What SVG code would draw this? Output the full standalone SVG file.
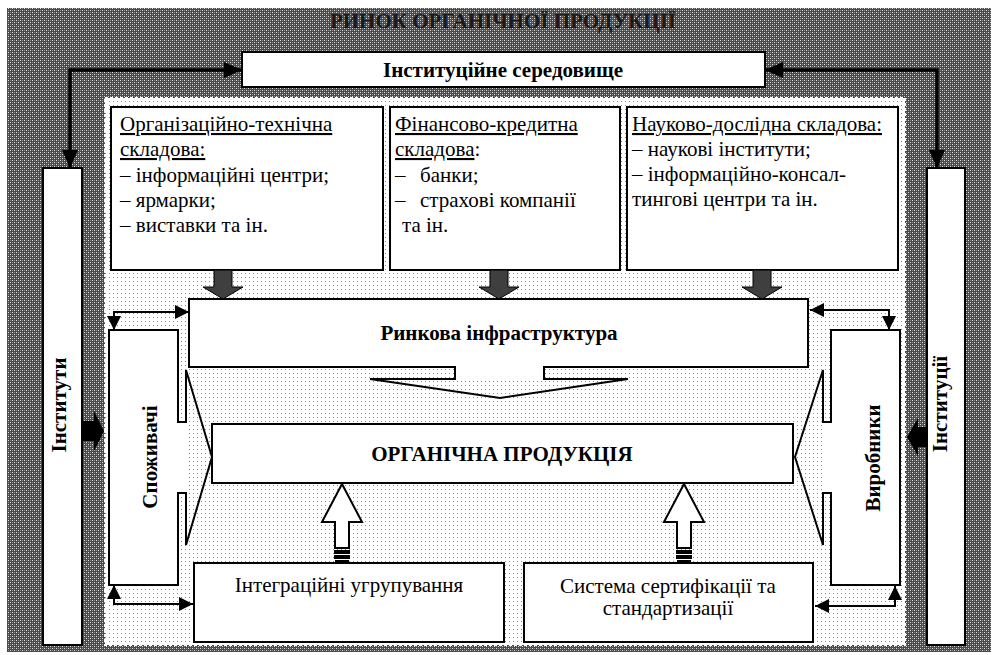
<svg xmlns="http://www.w3.org/2000/svg" width="997" height="655" viewBox="0 0 997 655">
<defs>
<pattern id="dark" width="4" height="4" patternUnits="userSpaceOnUse">
<rect width="4" height="4" fill="#4a4a4a"/>
<rect x="0" y="0" width="1" height="1" fill="#e0e0e0"/>
<rect x="2" y="2" width="1" height="1" fill="#e0e0e0"/>
<rect x="2" y="0" width="1" height="1" fill="#8a8a8a"/>
<rect x="0" y="2" width="1" height="1" fill="#8a8a8a"/>
</pattern>
<pattern id="dots" width="4" height="4" patternUnits="userSpaceOnUse">
<rect width="4" height="4" fill="#ffffff"/>
<rect x="1" y="1" width="1" height="1" fill="#8c8c8c"/>
</pattern>
<marker id="ah" viewBox="0 0 14 14" markerWidth="14" markerHeight="14" refX="14" refY="7" orient="auto-start-reverse" markerUnits="userSpaceOnUse">
<path d="M0,0 L14,7 L0,14 Z" fill="#000"/>
</marker>
<marker id="ahb" viewBox="0 0 18 16" markerWidth="18" markerHeight="16" refX="18" refY="8" orient="auto-start-reverse" markerUnits="userSpaceOnUse">
<path d="M0,0 L18,8 L0,16 Z" fill="#000"/>
</marker>
<style>
.t{font-family:"Liberation Serif","Times New Roman",serif;font-size:21px;fill:#000}
.b{font-weight:bold}
.m{text-anchor:middle}
.box{fill:#fff;stroke:#000;stroke-width:2}
.ol{fill:none;stroke:#000;stroke-width:2;stroke-linejoin:miter}
.wf{fill:#fff;stroke:none}
.thin{fill:none;stroke:#000;stroke-width:2}
.thick{fill:none;stroke:#000;stroke-width:3.5}
.dn{fill:#3f3f3f;stroke:#000;stroke-width:1}
.up{fill:#fff;stroke:#000;stroke-width:2}
.blk{fill:#000;stroke:none}
</style>
</defs>

<g id="background">
<rect x="7" y="8" width="984" height="644" fill="url(#dark)"/>
<rect x="105" y="98" width="800" height="547" fill="url(#dots)" stroke="#fff" stroke-width="2" stroke-dasharray="3 2"/>
</g>

<g id="title">
<text class="t b m" x="503" y="28" font-size="20" style="fill:#1a1a1a">РИНОК ОРГАНІЧНОЇ ПРОДУКЦІЇ</text>
</g>

<g id="inst-env">
<rect class="box" x="242" y="52" width="523" height="35"/>
<text class="t b m" x="503" y="77">Інституційне середовище</text>
</g>

<g id="institutes">
<rect class="box" x="43" y="168" width="39" height="477"/>
<text class="t b m" transform="translate(66,405) rotate(-90)">Інститути</text>
</g>

<g id="institutions">
<rect class="box" x="927" y="168" width="38" height="477"/>
<text class="t b m" transform="translate(947,404) rotate(-90)">Інституції</text>
</g>

<g id="box-org">
<rect class="box" x="111" y="107" width="272" height="163"/>
<text class="t" x="120" y="131"><tspan text-decoration="underline">Організаційно-технічна</tspan></text>
<text class="t" x="120" y="156"><tspan text-decoration="underline">складова:</tspan></text>
<text class="t" x="120" y="182">– інформаційні центри;</text>
<text class="t" x="120" y="207">– ярмарки;</text>
<text class="t" x="120" y="232">– виставки та ін.</text>
</g>

<g id="box-fin">
<rect class="box" x="390" y="107" width="230" height="163"/>
<text class="t" x="395" y="131"><tspan text-decoration="underline">Фінансово-кредитна</tspan></text>
<text class="t" x="395" y="156"><tspan text-decoration="underline">складова</tspan>:</text>
<text class="t" x="395" y="182">–<tspan x="420">банки;</tspan></text>
<text class="t" x="395" y="207">–<tspan x="420">страхові компанії</tspan></text>
<text class="t" x="402" y="232">та ін.</text>
</g>

<g id="box-sci">
<rect class="box" x="627" y="107" width="271" height="163"/>
<text class="t" x="632" y="131"><tspan text-decoration="underline">Науково-дослідна складова:</tspan></text>
<text class="t" x="632" y="156">– наукові інститути;</text>
<text class="t" x="632" y="181">– інформаційно-консал-</text>
<text class="t" x="632" y="206">тингові центри та ін.</text>
</g>

<g id="infra">
<path class="wf" d="M189,299 H808 V367 H544 V379 H455 V367 H189 Z"/>
<path class="ol" d="M189,299 H808 V367 H544 V379 H628 L500,398 L370,379 H455 V367 H189 Z"/>
<text class="t b m" x="499" y="340">Ринкова інфраструктура</text>
</g>

<g id="organic">
<rect class="box" x="212" y="424" width="581" height="59"/>
<text class="t b m" x="502" y="461">ОРГАНІЧНА ПРОДУКЦІЯ</text>
</g>

<g id="consumers">
<path class="wf" d="M109,330 H178 V422 H186 V493 H178 V585 H109 Z"/>
<path class="ol" d="M109,330 H178 V422 H186 V370 L212,457 L186,545 V493 H178 V585 H109 Z"/>
<text class="t b m" transform="translate(157,457) rotate(-90)">Споживачі</text>
</g>

<g id="producers">
<path class="wf" d="M900,330 H831 V422 H823 V493 H831 V585 H900 Z"/>
<path class="ol" d="M900,330 H831 V422 H823 V370 L795,457 L823,545 V493 H831 V585 H900 Z"/>
<text class="t b m" transform="translate(880,458) rotate(-90)">Виробники</text>
</g>

<g id="integration">
<rect class="box" x="194" y="563" width="310" height="79"/>
<text class="t m" x="349" y="592">Інтеграційні угрупування</text>
</g>

<g id="certification">
<rect class="box" x="524" y="563" width="289" height="79"/>
<text class="t m" x="668" y="593">Система сертифікації та</text>
<text class="t m" x="668" y="615">стандартизації</text>
</g>

<g id="connectors">
<path class="thick" d="M70,168 V70 H242" marker-start="url(#ahb)" marker-end="url(#ahb)"/>
<path class="thick" d="M765,70 H937 V168" marker-start="url(#ahb)" marker-end="url(#ahb)"/>
<path class="thin" d="M189,312 H114 V330" marker-start="url(#ah)" marker-end="url(#ah)"/>
<path class="thin" d="M114,585 V604 H193" marker-start="url(#ah)" marker-end="url(#ah)"/>
<path class="thin" d="M810,310 H889 V330" marker-start="url(#ah)" marker-end="url(#ah)"/>
<path class="thin" d="M895,586 V606 H815" marker-start="url(#ah)" marker-end="url(#ah)"/>
<path class="dn" d="M214,270 H232 V287 H243 L223,299 L203,287 H214 Z"/>
<path class="dn" d="M490,270 H508 V287 H519 L499,299 L479,287 H490 Z"/>
<path class="dn" d="M753,270 H771 V287 H782 L762,299 L742,287 H753 Z"/>
<path class="up" d="M342,484 L362,522 H349 V548 H335 V522 H322 Z"/>
<rect class="up" x="335" y="551" width="14" height="2" stroke-width="1.5"/>
<rect class="up" x="335" y="556" width="14" height="2" stroke-width="1.5"/>
<line x1="335" y1="561" x2="349" y2="561" stroke="#000" stroke-width="2"/>
<path class="up" d="M684,484 L704,522 H691 V548 H677 V522 H664 Z"/>
<rect class="up" x="677" y="551" width="14" height="2" stroke-width="1.5"/>
<rect class="up" x="677" y="556" width="14" height="2" stroke-width="1.5"/>
<line x1="677" y1="561" x2="691" y2="561" stroke="#000" stroke-width="2"/>
<path class="blk" d="M83,421 H94 V411 L104,431 L94,451 V441 H83 Z"/>
<path class="blk" d="M927,427 H918 V418 L907,437 L918,456 V447 H927 Z"/>
</g>
</svg>
